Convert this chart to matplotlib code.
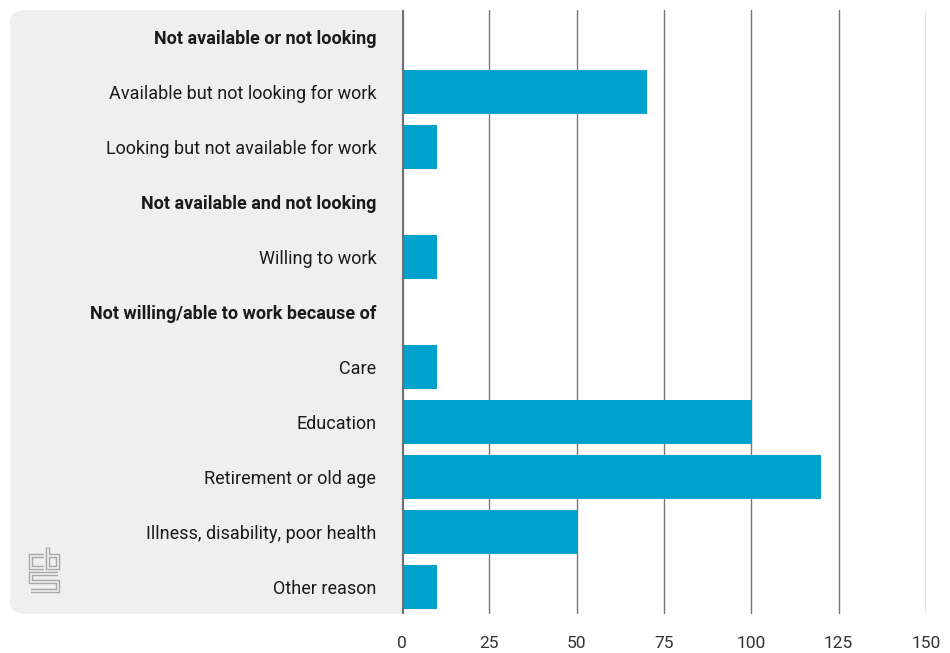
import matplotlib
matplotlib.use("Agg")
import matplotlib.pyplot as plt
from matplotlib.patches import FancyBboxPatch
from matplotlib.lines import Line2D

labels = ["Not available or not looking", "Available but not looking for work",
          "Looking but not available for work", "Not available and not looking",
          "Willing to work", "Not willing/able to work because of", "Care",
          "Education", "Retirement or old age", "Illness, disability, poor health",
          "Other reason"]
values = [0, 70, 10, 0, 10, 0, 10, 100, 120, 50, 10]
is_header = [True, False, False, True, False, True, False, False, False, False, False]
xticks = [0, 25, 50, 75, 100, 125, 150]

W, H = 950, 653
plt.rcParams["font.family"] = ["Roboto", "DejaVu Sans"]
fig = plt.figure(figsize=(W / 100, H / 100), dpi=100)

def px(x, y):
    return x / W, 1 - y / H

# grey label panel
x0, y0 = px(10, 614)
x1, y1 = px(420, 10)
panel = FancyBboxPatch((x0, y0), x1 - x0, y1 - y0, boxstyle="round,pad=0,rounding_size=0.018",
                       transform=fig.transFigure, facecolor="#efefef", edgecolor="none", zorder=0)
fig.add_artist(panel)

ax = fig.add_axes([402 / W, 1 - 614 / H, (926 - 402) / W, 604 / H], zorder=1)
ax.set_facecolor("white")
ypos = list(range(len(labels)))
ax.barh(ypos, values, height=0.8, color="#00a1cd", zorder=3)
ax.set_xlim(0, 150)
ax.set_ylim(len(labels) - 0.5, -0.5)
ax.set_xticks(xticks)
ax.set_xticklabels([str(t) for t in xticks], fontsize=12.5, color="#333333")
ax.tick_params(axis="x", length=0, pad=16)
ax.set_yticks(ypos)
ax.set_yticklabels(labels, fontsize=13, color="#1a1a1a")
ax.tick_params(axis="y", length=0, pad=18.5)
for lab, hd in zip(ax.get_yticklabels(), is_header):
    if hd:
        lab.set_fontweight("bold")
for t in xticks[1:]:
    ax.axvline(t, color="#777777", lw=1, zorder=1)
ax.axvline(0, color="#6e6e6e", lw=3, zorder=4)
for s in ax.spines.values():
    s.set_visible(False)

# cbs logo
paths = [
    [(44, 556), (31, 556), (31, 568), (44, 568)],
    [(48, 547), (48, 568), (58, 568), (58, 556), (48, 556)],
    [(58, 574), (31, 574), (31, 582), (58, 582), (58, 591), (31, 591)],
]
for p in paths:
    xs = [px(a, b)[0] for a, b in p]
    ys = [px(a, b)[1] for a, b in p]
    fig.add_artist(Line2D(xs, ys, transform=fig.transFigure, color="#a8a8a8", lw=3.2,
                          solid_capstyle="butt", solid_joinstyle="miter", zorder=2))
    fig.add_artist(Line2D(xs, ys, transform=fig.transFigure, color="#efefef", lw=1.2,
                          solid_capstyle="butt", solid_joinstyle="miter", zorder=3))

fig.savefig("out.png", dpi=100)
